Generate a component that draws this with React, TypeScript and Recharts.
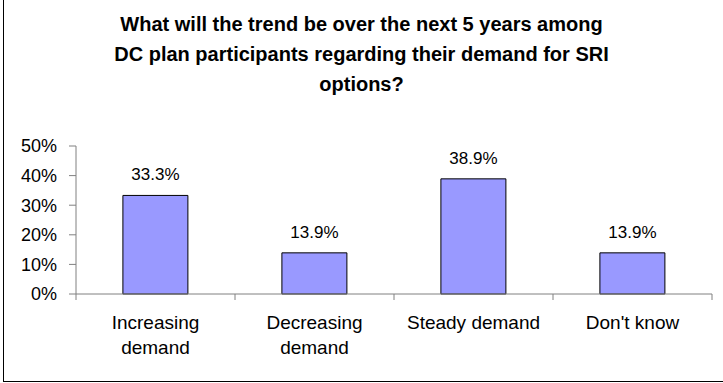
import { Bar, BarChart, LabelList, Text, XAxis, YAxis } from "recharts";

const FONT = "Arial, 'Liberation Sans', sans-serif";

const categories = ["Increasing demand", "Decreasing demand", "Steady demand", "Don't know"];
const shares = [33.3, 13.9, 38.9, 13.9];
const yTicks = [0, 10, 20, 30, 40, 50];
const titleLines = [
  "What will the trend be over the next 5 years among",
  "DC plan participants regarding their demand for SRI",
  "options?",
];

const data = categories.map((name, i) => ({ name, value: shares[i] }));

const AXIS = "#808080";

// category label + tick marks on the band edges (Excel style)
function CategoryTick(props: any) {
  const { x, y, payload, index } = props;
  const half = payload.offset ?? 0;
  return (
    <g>
      <line x1={x - half} y1={y} x2={x - half} y2={y + 6} stroke={AXIS} />
      {index === categories.length - 1 && (
        <line x1={x + half} y1={y} x2={x + half} y2={y + 6} stroke={AXIS} />
      )}
      <Text
        x={x}
        y={y + 22}
        width={half * 2 - 24}
        textAnchor="middle"
        verticalAnchor="start"
        lineHeight={25}
        style={{ fontSize: 19, fontFamily: FONT, fill: "#000" }}
      >
        {payload.value}
      </Text>
    </g>
  );
}

export default function App() {
  return (
    <div
      style={{
        position: "absolute",
        left: 0,
        top: 0,
        width: 723,
        height: 383,
        overflow: "hidden",
        background: "#fff",
        fontFamily: FONT,
      }}
    >
      <div
        style={{
          position: "absolute",
          left: 3,
          top: -10,
          width: 740,
          height: 392,
          boxSizing: "border-box",
          border: "1px solid #000",
        }}
      />
      <div
        style={{
          position: "absolute",
          left: 0,
          top: 9,
          width: 723,
          textAlign: "center",
          fontWeight: 700,
          fontSize: 20,
          lineHeight: "30px",
          color: "#000",
        }}
      >
        {titleLines.map((t) => (
          <div key={t}>{t}</div>
        ))}
      </div>
      <div style={{ position: "absolute", left: 0, top: 0 }}>
        <BarChart
          width={723}
          height={383}
          data={data}
          margin={{ top: 146, right: 11, left: 0, bottom: 9 }}
          barCategoryGap="29.5%"
        >
          <XAxis
            dataKey="name"
            height={80}
            axisLine={{ stroke: AXIS }}
            tickLine={false}
            tickSize={0}
            tickMargin={0}
            interval={0}
            tick={<CategoryTick />}
          />
          <YAxis
            width={76}
            domain={[0, 50]}
            ticks={yTicks}
            interval={0}
            tickFormatter={(v: number) => `${v}%`}
            axisLine={{ stroke: AXIS }}
            tickLine={{ stroke: AXIS }}
            tickSize={7}
            tickMargin={12}
            tick={{ fontSize: 18, fill: "#000", fontFamily: FONT }}
          />
          <Bar dataKey="value" fill="#9999FF" stroke="#000" strokeWidth={1} isAnimationActive={false}>
            <LabelList
              dataKey="value"
              position="top"
              offset={15}
              formatter={(v: any) => `${Number(v).toFixed(1)}%`}
              style={{ fontSize: 17, fill: "#000", fontFamily: FONT }}
            />
          </Bar>
        </BarChart>
      </div>
    </div>
  );
}
